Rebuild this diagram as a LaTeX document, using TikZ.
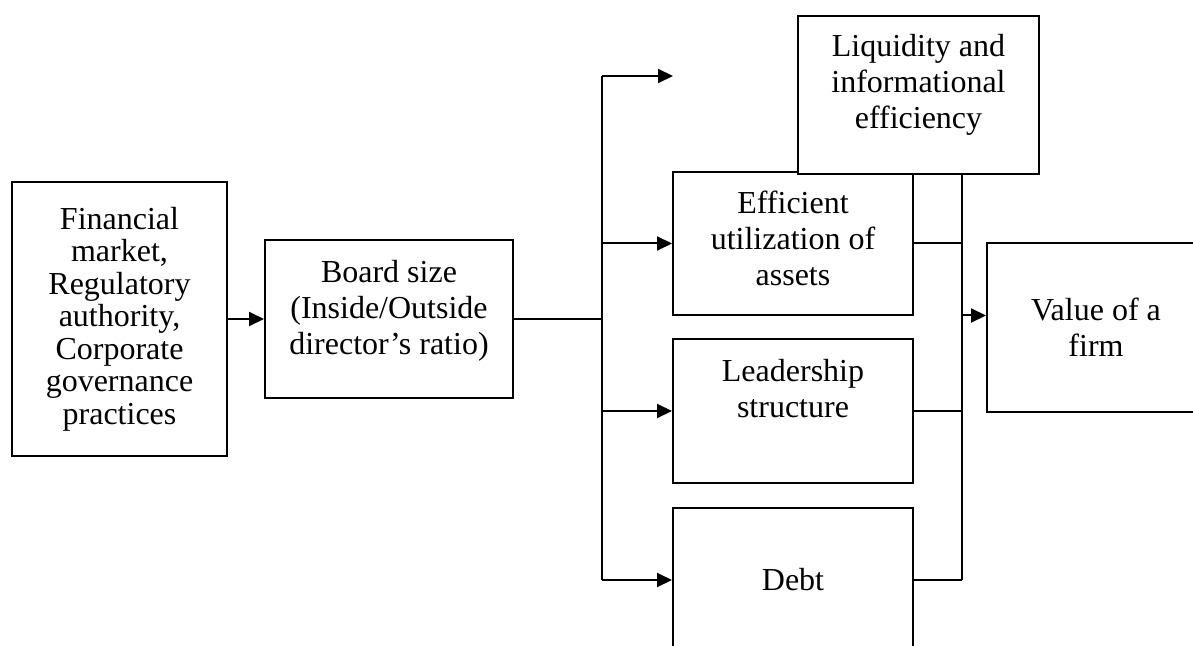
\documentclass[tikz,border=0pt]{standalone}
\usepackage{fontspec}
\setmainfont{Liberation Serif}
\usetikzlibrary{arrows.meta}

\begin{document}
\begin{tikzpicture}
[->/.style={arrows={-Triangle[length=7.5pt,width=7pt]}},
   box/.style={shape=rectangle, draw, fill=white, align=center, inner sep=0pt,
     font=\fontsize{16}{18}\selectfont},
   x=0.5pt, y=-0.5pt, line width=1pt]
\useasboundingbox (0,0) rectangle (1193,646);
\node[box, minimum width=107.5pt, minimum height=137pt,
  font=\fontsize{16}{16.25}\selectfont] (fin) at (119.5,319)
  {Financial\\market,\\Regulatory\\authority,\\Corporate\\governance\\practices};
\node[box, minimum width=124pt, minimum height=78.5pt, text depth=12pt] (board) at (389,319)
  {Board size\\(Inside/Outside\\director's ratio)};
\node[box, minimum width=120pt, minimum height=71.5pt, text depth=5pt] (eff) at (793,243.5)
  {Efficient\\utilization of\\assets};
\node[box, minimum width=120.5pt, minimum height=79pt, text depth=14pt] (liq) at (918.5,95)
  {Liquidity and\\informational\\efficiency};
\node[box, minimum width=120pt, minimum height=72pt, text depth=23pt] (lead) at (793,411)
  {Leadership\\structure};
\node[box, minimum width=120pt, minimum height=72pt] (debt) at (793,580) {Debt};
\node[box, minimum width=109pt, minimum height=84.5pt] (value) at (1096,327.5)
  {Value of a\\firm};
%% left bus
\coordinate (lbus) at (602,76);
\coordinate (topend) at (673,76);
\draw [->] (fin.east) -- (fin.east -| board.west);
\draw (board.east) -- (board.east -| lbus);
\draw (lbus) -- (lbus |- debt.west);
\draw [->] (lbus) -- (topend);
\foreach \n in {eff, lead, debt}
  \draw [->] (\n.west -| lbus) -- (\n.west);
%% right bus
\coordinate (rbus) at (962,174);
\draw (liq.south -| rbus) -- (rbus |- debt.east);
\foreach \n in {eff, lead, debt}
  \draw (\n.east) -- (\n.east -| rbus);
\draw [->] ([yshift=6pt]value.west -| rbus) -- ([yshift=6pt]value.west);
\end{tikzpicture}
\end{document}
